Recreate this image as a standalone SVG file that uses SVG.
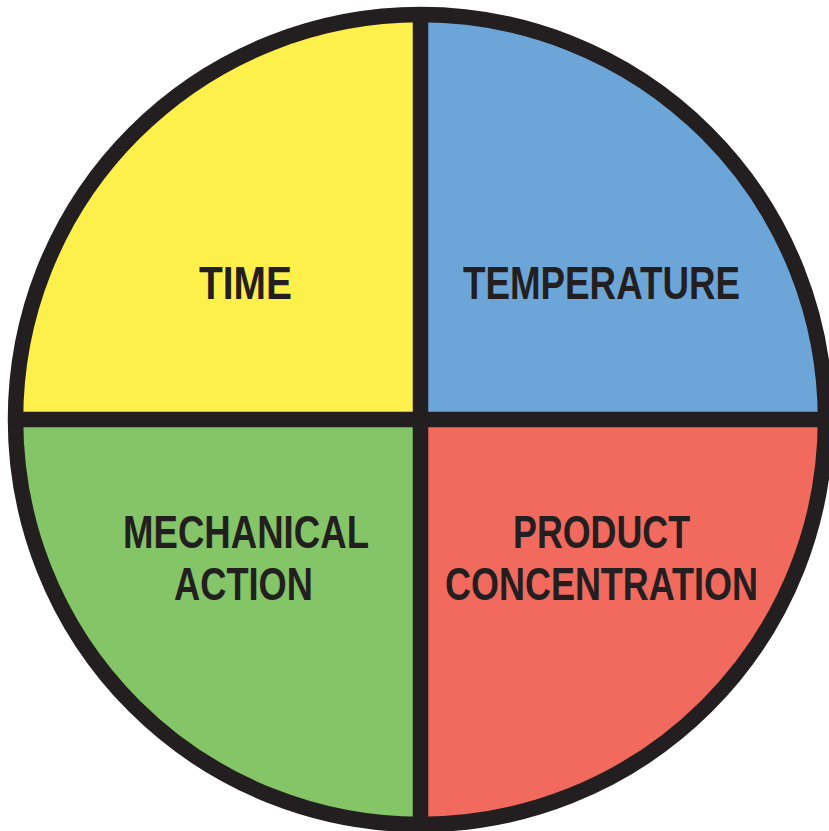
<svg xmlns="http://www.w3.org/2000/svg" width="829" height="831" viewBox="0 0 829 831">
<style>
.lbl{font-family:"Liberation Sans",Arial,sans-serif;font-weight:bold;font-size:47px;fill:#231F20;text-anchor:middle}
.div{stroke:#231F20;stroke-width:15.5;fill:none}
</style>
<rect width="829" height="831" fill="#ffffff"/>
<g id="time">
<path d="M420.5 419.5 L15.5 419.5 A405 405 0 0 1 420.5 14.5 Z" fill="#FEF04B"/>
<text class="lbl" x="245.5" y="299" textLength="93" lengthAdjust="spacingAndGlyphs">TIME</text>
</g>
<g id="temperature">
<path d="M420.5 419.5 L420.5 14.5 A405 405 0 0 1 825.5 419.5 Z" fill="#6CA6D9"/>
<text class="lbl" x="601.5" y="299" textLength="277" lengthAdjust="spacingAndGlyphs">TEMPERATURE</text>
</g>
<g id="product-concentration">
<path d="M420.5 419.5 L825.5 419.5 A405 405 0 0 1 420.5 824.5 Z" fill="#F2695D"/>
<text class="lbl" x="601.5" y="548" textLength="177" lengthAdjust="spacingAndGlyphs">PRODUCT</text>
<text class="lbl" x="601.5" y="600" textLength="313" lengthAdjust="spacingAndGlyphs">CONCENTRATION</text>
</g>
<g id="mechanical-action">
<path d="M420.5 419.5 L420.5 824.5 A405 405 0 0 1 15.5 419.5 Z" fill="#84C567"/>
<text class="lbl" x="246" y="548" textLength="246" lengthAdjust="spacingAndGlyphs">MECHANICAL</text>
<text class="lbl" x="243.5" y="600" textLength="139" lengthAdjust="spacingAndGlyphs">ACTION</text>
</g>
<g id="connectors">
<circle class="div" cx="420.5" cy="419.5" r="405"/>
<line class="div" x1="420.5" y1="14.5" x2="420.5" y2="824.5"/>
<line class="div" x1="15.5" y1="419.5" x2="825.5" y2="419.5"/>
</g>
</svg>
